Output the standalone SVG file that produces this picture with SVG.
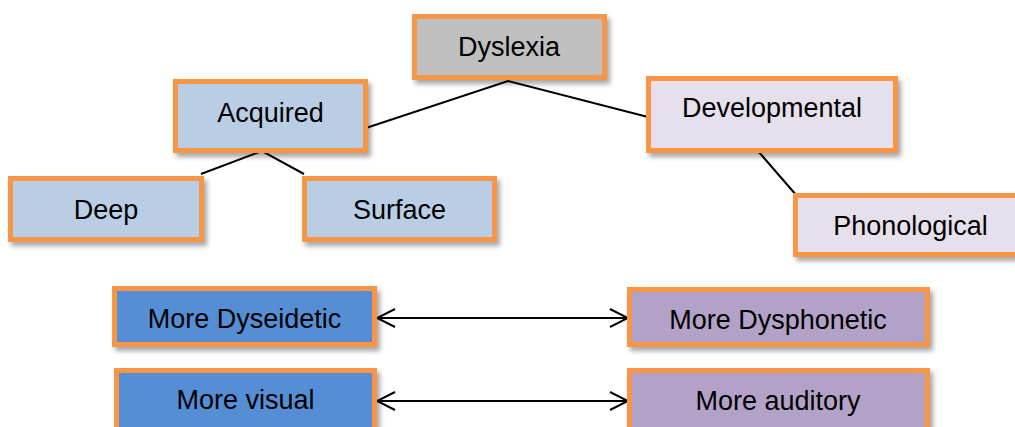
<svg xmlns="http://www.w3.org/2000/svg" width="1015" height="427" viewBox="0 0 1015 427">
  <defs>
    <filter id="shadow" x="-10%" y="-20%" width="130%" height="150%">
      <feDropShadow dx="3" dy="4" stdDeviation="2.5" flood-color="#000" flood-opacity="0.35"/>
    </filter>
    <marker id="chev" viewBox="0 0 20 20" refX="19" refY="10" markerWidth="20" markerHeight="20" markerUnits="userSpaceOnUse" orient="auto-start-reverse">
      <path d="M1,1 L19,10 L1,19" fill="none" stroke="#000" stroke-width="2"/>
    </marker>
  </defs>
  <style>
    .box { stroke: #f79646; stroke-width: 5; filter: url(#shadow); }
    .grey { fill: #bfbfbf; }
    .lblue { fill: #b9cde5; }
    .lilac { fill: #e5e0ec; }
    .blue { fill: #558ed5; }
    .purple { fill: #b3a2c7; }
    .lbl { font-family: "Liberation Sans", Arial, sans-serif; font-size: 27px; fill: #000; text-anchor: middle; }
    .link { stroke: #000; stroke-width: 2; fill: none; }
  </style>

  <rect width="1015" height="427" fill="#fff"/>

  <!-- tree and relation lines -->
  <g id="connectors">
    <polyline class="link" points="366,128 508,81 648,117"/>
    <polyline class="link" points="201,174 262,151 304,174"/>
    <line class="link" x1="758" y1="151" x2="797" y2="196"/>
    <line class="link" x1="377" y1="318" x2="628" y2="318" marker-start="url(#chev)" marker-end="url(#chev)"/>
    <line class="link" x1="377" y1="401" x2="628" y2="401" marker-start="url(#chev)" marker-end="url(#chev)"/>
  </g>

  <g id="dyslexia">
    <rect class="box grey" x="414.5" y="16.5" width="190" height="61"/>
    <text class="lbl" x="509" y="56">Dyslexia</text>
  </g>

  <g id="acquired">
    <rect class="box lblue" x="175.5" y="81.5" width="190" height="69"/>
    <text class="lbl" x="270.5" y="122">Acquired</text>
  </g>

  <g id="developmental">
    <rect class="box lilac" x="648.5" y="78.5" width="247" height="72"/>
    <text class="lbl" x="772" y="117">Developmental</text>
  </g>

  <g id="deep">
    <rect class="box lblue" x="10.5" y="178.5" width="191" height="61"/>
    <text class="lbl" x="106" y="219">Deep</text>
  </g>

  <g id="surface">
    <rect class="box lblue" x="304.5" y="178.5" width="190" height="61"/>
    <text class="lbl" x="399.5" y="219">Surface</text>
  </g>

  <g id="phonological">
    <rect class="box lilac" x="795.5" y="195.5" width="230" height="59"/>
    <text class="lbl" x="910.5" y="235">Phonological</text>
  </g>

  <g id="more-dyseidetic">
    <rect class="box blue" x="114.5" y="288.5" width="260" height="56"/>
    <text class="lbl" x="244.5" y="328">More Dyseidetic</text>
  </g>

  <g id="more-dysphonetic">
    <rect class="box purple" x="629.5" y="289.5" width="298" height="55"/>
    <text class="lbl" x="778" y="329">More Dysphonetic</text>
  </g>

  <g id="more-visual">
    <rect class="box blue" x="116.5" y="370.5" width="258" height="70"/>
    <text class="lbl" x="245.5" y="409">More visual</text>
  </g>

  <g id="more-auditory">
    <rect class="box purple" x="629.5" y="370.5" width="298" height="70"/>
    <text class="lbl" x="778" y="410">More auditory</text>
  </g>
</svg>
